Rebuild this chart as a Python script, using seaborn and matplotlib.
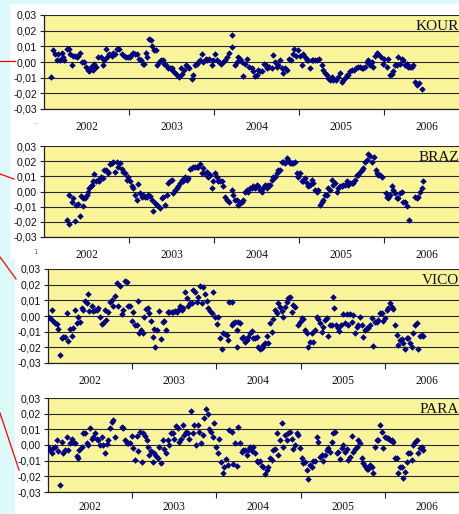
import matplotlib
matplotlib.use("Agg")
import matplotlib.pyplot as plt
from matplotlib.patches import Rectangle
from matplotlib.lines import Line2D
import seaborn as sns
import pandas as pd

# Time is given in years since 1 January 2002; values are residuals in metres.
stations = ["KOUR", "BRAZ", "VICO", "PARA"]
year_labels = ["2002", "2003", "2004", "2005", "2006"]
y_ticks = [-0.03, -0.02, -0.01, 0.00, 0.01, 0.02, 0.03]

t_kour = [0.082, 0.110, 0.129, 0.149, 0.169, 0.188, 0.208, 0.227, 0.239, 0.267,
          0.290, 0.306, 0.329, 0.345, 0.365, 0.384, 0.404, 0.424, 0.443, 0.471,
          0.490, 0.514, 0.533, 0.553, 0.573, 0.592, 0.612, 0.639, 0.667, 0.690,
          0.710, 0.729, 0.745, 0.769, 0.796, 0.816, 0.839, 0.863, 0.886, 0.914,
          0.941, 0.965, 0.992, 1.012, 1.031, 1.051, 1.071, 1.090, 1.122, 1.141,
          1.161, 1.180, 1.200, 1.216, 1.235, 1.255, 1.275, 1.294, 1.314, 1.333,
          1.357, 1.376, 1.396, 1.416, 1.435, 1.455, 1.482, 1.502, 1.522, 1.541,
          1.561, 1.588, 1.608, 1.627, 1.647, 1.671, 1.690, 1.710, 1.737, 1.757,
          1.776, 1.796, 1.816, 1.835, 1.855, 1.875, 1.902, 1.922, 1.945, 1.973,
          1.992, 2.012, 2.031, 2.059, 2.082, 2.102, 2.129, 2.149, 2.176,
          2.208, 2.208, 2.247, 2.267, 2.286, 2.306, 2.325, 2.345, 2.365, 2.392,
          2.416, 2.443, 2.463, 2.482, 2.502, 2.522, 2.541, 2.561, 2.592, 2.612,
          2.627, 2.651, 2.678, 2.698, 2.718, 2.737, 2.757, 2.776, 2.796, 2.816,
          2.835, 2.863, 2.886, 2.906, 2.925, 2.941, 2.965, 2.992, 3.012, 3.031,
          3.051, 3.071, 3.090, 3.110, 3.129, 3.149, 3.169, 3.188, 3.216, 3.239,
          3.267, 3.286, 3.306, 3.325, 3.345, 3.365, 3.384, 3.404, 3.435, 3.463,
          3.482, 3.502, 3.522, 3.541, 3.561, 3.580, 3.600, 3.620, 3.647, 3.671,
          3.698, 3.718, 3.737, 3.757, 3.776, 3.796, 3.816, 3.835, 3.855, 3.875,
          3.894, 3.914, 3.933, 3.961, 3.984, 4.004, 4.031, 4.051, 4.071, 4.090,
          4.110, 4.129, 4.149, 4.169, 4.188, 4.208, 4.227, 4.247, 4.267, 4.286,
          4.306, 4.325, 4.345, 4.365, 4.392, 4.416, 4.443]
v_kour = [-0.0095, 0.0075, 0.005, 0.001, 0.005, 0.001, 0.006, 0.003, 0.001, 0.008,
          0.008, 0.005, -0.002, 0.004, 0.004, 0.003, 0.004, 0.006, 0.000, 0.000,
          -0.003, -0.005, -0.006, -0.003, -0.005, -0.001, -0.003, 0.003, 0.003, -0.002,
          0.001, 0.008, 0.003, 0.005, 0.004, 0.006, 0.005, 0.008, 0.008, 0.005,
          0.004, 0.003, 0.003, 0.003, 0.005, 0.006, 0.005, 0.005, 0.002, 0.001,
          -0.001, -0.001, 0.006, 0.003, 0.0145, 0.014, 0.0105, 0.0075, 0.0075, -0.002,
          0.000, 0.001, 0.001, -0.001, -0.002, -0.004, -0.004, -0.004, -0.006, -0.007,
          -0.008, -0.0095, -0.004, -0.0075, -0.005, -0.002, -0.003, -0.004, -0.011, -0.008,
          -0.002, -0.001, 0.000, 0.001, 0.005, 0.000, 0.002, 0.001, 0.002, -0.002,
          0.001, 0.005, 0.001, 0.000, -0.001, 0.000, 0.001, 0.003, 0.006,
          0.017, 0.0095, -0.002, 0.000, 0.003, 0.002, 0.000, -0.009, -0.001, 0.002,
          -0.003, -0.004, -0.006, -0.009, -0.008, -0.005, -0.006, -0.006, -0.001, -0.002,
          -0.004, -0.003, -0.004, 0.0045, 0.000, -0.003, -0.002, 0.001, -0.004, -0.007,
          -0.004, -0.005, 0.002, 0.001, 0.005, 0.008, 0.004, 0.0075, 0.004, -0.002,
          0.005, 0.003, 0.001, 0.001, -0.004, 0.001, 0.001, 0.001, 0.001, 0.002,
          -0.002, -0.005, -0.007, -0.008, -0.0105, -0.0115, -0.0095, -0.0115, -0.0115, -0.0095,
          -0.007, -0.0125, -0.0115, -0.0105, -0.008, -0.008, -0.006, -0.005, -0.005, -0.004,
          -0.003, -0.003, -0.004, -0.004, -0.003, 0.000, 0.001, -0.002, 0.000, -0.003,
          0.004, 0.006, 0.005, 0.003, -0.001, 0.002, -0.003, 0.002, -0.008, -0.0075,
          -0.006, -0.002, -0.002, 0.003, -0.001, 0.002, 0.001, -0.002, -0.001, -0.003,
          -0.003, -0.003, -0.002, -0.0125, -0.0145, -0.0135, -0.017]

t_braz = [0.267, 0.294, 0.294, 0.325, 0.345, 0.365, 0.376, 0.396, 0.424, 0.435,
          0.455, 0.463, 0.482, 0.502, 0.514, 0.533, 0.549, 0.561, 0.573, 0.592,
          0.612, 0.631, 0.651, 0.671, 0.690, 0.706, 0.729, 0.749, 0.757, 0.776,
          0.796, 0.816, 0.835, 0.855, 0.875, 0.894, 0.914, 0.933, 0.953, 0.973,
          0.992, 1.012, 1.031, 1.051, 1.071, 1.090, 1.110, 1.129, 1.149, 1.169,
          1.188, 1.208, 1.227, 1.247, 1.267, 1.286, 1.306, 1.325, 1.345, 1.365,
          1.384, 1.404, 1.424, 1.443, 1.463, 1.482, 1.502, 1.522, 1.541, 1.561,
          1.580, 1.600, 1.620, 1.639, 1.659, 1.678, 1.698, 1.718, 1.737, 1.757,
          1.776, 1.796, 1.816, 1.835, 1.855, 1.875, 1.894, 1.914, 1.933, 1.953,
          1.973, 1.992, 2.012, 2.031, 2.051, 2.071, 2.090, 2.110, 2.129, 2.149,
          2.176,
          2.208, 2.227, 2.247, 2.267, 2.286, 2.306, 2.325, 2.345, 2.365, 2.384,
          2.404, 2.424, 2.443, 2.463, 2.482, 2.502, 2.522, 2.541, 2.561, 2.580,
          2.600, 2.620, 2.639, 2.659, 2.678, 2.698, 2.718, 2.737, 2.757, 2.776,
          2.796, 2.816, 2.835, 2.855, 2.875, 2.894, 2.914, 2.933, 2.953, 2.973,
          2.992, 3.012, 3.031, 3.051, 3.071, 3.090, 3.110, 3.129, 3.149, 3.169,
          3.188, 3.208, 3.227, 3.247, 3.267, 3.286, 3.306, 3.325, 3.345, 3.365,
          3.384, 3.404, 3.424, 3.443, 3.463, 3.482, 3.502, 3.522, 3.541, 3.561,
          3.580, 3.600, 3.620, 3.639, 3.659, 3.678, 3.698, 3.718, 3.737, 3.757,
          3.776, 3.796, 3.816, 3.835, 3.855,
          3.882, 3.902, 3.914, 3.933, 3.953, 3.973,
          4.024, 4.031, 4.051, 4.071, 4.090, 4.110, 4.129, 4.149, 4.169, 4.188,
          4.208, 4.227, 4.247,
          4.275, 4.294,
          4.365, 4.384, 4.404, 4.424, 4.443, 4.463]
v_braz = [-0.0186, -0.0214, -0.0026, -0.0066, -0.0044, -0.0197, -0.0088, -0.0081, -0.016, -0.0028,
          -0.0094, -0.0044, -0.0044, -0.0022, 0.000, 0.0022, 0.0033, 0.0044, 0.0066, 0.0114,
          0.0066, 0.0077, 0.007, 0.0098, 0.0088, 0.0142, 0.0142, 0.0131, 0.012, 0.018,
          0.0186, 0.0193, 0.0131, 0.0193, 0.0164, 0.0186, 0.0149, 0.0131, 0.012, 0.0077,
          0.0098, 0.0072, 0.0033, 0.0022, -0.0026, -0.0055, 0.0048, -0.0011, -0.0033, -0.0022,
          -0.0033, -0.0033, -0.0022, -0.0028, -0.0055, -0.0127, -0.0077, -0.0088, -0.0098, -0.0109,
          -0.0044, -0.0033, -0.0088, -0.0022, 0.0055, 0.0072, 0.0077, -0.0007, 0.0011, 0.0022,
          0.0033, 0.0055, 0.0077, 0.0066, 0.0098, 0.0077, 0.0088, 0.0147, 0.0153, 0.0164,
          0.0164, 0.016, 0.0164, 0.0182, 0.012, 0.0153, 0.012, 0.0131, 0.0098, 0.0109,
          0.0022, 0.0066, 0.012, 0.0098, 0.0066, 0.0066, 0.0066, 0.0033, -0.0033, -0.0055,
          -0.0066,
          0.0011, -0.0022, -0.0055, -0.0055, -0.0088, -0.0077, -0.0066, -0.0055, 0.000, 0.0011,
          0.000, 0.0022, 0.0022, 0.0033, 0.0022, 0.0044, 0.0033, 0.0011, 0.000, 0.0022,
          0.0044, 0.0022, 0.0044, 0.0044, 0.0077, 0.0098, 0.0098, 0.012, 0.0142, 0.0142,
          0.0197, 0.0197, 0.0186, 0.0219, 0.0208, 0.0186, 0.0186, 0.0186, 0.0197, 0.012,
          0.0098, 0.012, 0.0066, 0.0066, 0.0088, 0.0055, 0.0033, 0.0044, 0.0077, 0.0055,
          0.0011, 0.000, 0.0011, -0.0088, -0.0066, -0.0055, -0.0022, -0.0022, 0.0022, 0.0011,
          0.0077, 0.0044, 0.0055, 0.000, 0.0022, 0.0033, 0.0033, 0.0044, 0.0044, 0.0066,
          0.0044, 0.0055, 0.0055, 0.0055, 0.0077, 0.0109, 0.0109, 0.0131, 0.0142, 0.0153,
          0.0197, 0.0208, 0.0247, 0.0234, 0.0197,
          0.023, 0.0142, 0.0125, 0.0109, 0.0109, 0.0098,
          -0.0011, -0.0033, -0.0044, -0.0022, 0.0033, 0.0011, -0.0011, -0.0044, -0.0044, -0.0011,
          0.000, -0.0066, -0.0066,
          -0.0098, -0.0186,
          -0.0033, -0.0044, -0.0033, 0.000, 0.0022, 0.0066]

t_vico = [0.000, 0.004, 0.024, 0.044, 0.063, 0.083, 0.103, 0.123, 0.143, 0.162,
          0.182, 0.202, 0.222, 0.241, 0.261, 0.281, 0.293, 0.321, 0.340, 0.360,
          0.380, 0.400, 0.420, 0.439, 0.459, 0.479, 0.491, 0.519, 0.538, 0.558,
          0.578, 0.598, 0.618, 0.637, 0.657, 0.677, 0.689, 0.717, 0.736, 0.756,
          0.776, 0.796, 0.816, 0.835, 0.855, 0.875, 0.895, 0.914, 0.934, 0.954,
          0.974, 0.994, 1.013, 1.033, 1.053, 1.073, 1.085, 1.101, 1.124, 1.144,
          1.164, 1.184, 1.203, 1.223, 1.243, 1.263, 1.275, 1.291, 1.322, 1.342,
          1.362, 1.382, 1.401, 1.421, 1.441, 1.469, 1.489, 1.508, 1.528, 1.548,
          1.568, 1.587, 1.607, 1.627, 1.647, 1.667, 1.686, 1.706, 1.726, 1.746,
          1.766, 1.785, 1.805, 1.825, 1.845, 1.865, 1.884, 1.904, 1.924, 1.944,
          1.964, 1.983, 2.003, 2.023, 2.043, 2.063, 2.082, 2.102, 2.122, 2.142,
          2.154,
          2.181, 2.181, 2.201, 2.221, 2.241, 2.260, 2.280, 2.241, 2.300, 2.320,
          2.340, 2.359, 2.379, 2.399, 2.419, 2.439, 2.458, 2.478, 2.498, 2.518,
          2.538, 2.557, 2.577, 2.597, 2.617, 2.637, 2.656, 2.676, 2.696, 2.716,
          2.736, 2.755, 2.775, 2.795, 2.815, 2.835, 2.854, 2.874, 2.894, 2.914,
          2.934, 2.973, 2.993, 3.013, 3.033, 3.052, 3.072, 3.092, 3.112, 3.132,
          3.151, 3.171, 3.191, 3.211, 3.230, 3.250, 3.270, 3.290, 3.310, 3.329,
          3.349, 3.369, 3.389, 3.401, 3.421, 3.440, 3.460, 3.480, 3.508, 3.528,
          3.547, 3.567, 3.587, 3.607, 3.627, 3.646, 3.666, 3.686, 3.706, 3.726,
          3.745, 3.765, 3.785, 3.805, 3.824, 3.844, 3.864, 3.884, 3.904, 3.923,
          3.943, 3.963, 3.983, 4.002, 4.022, 4.042, 4.062, 4.081, 4.101, 4.121,
          4.141, 4.161, 4.180, 4.200, 4.220, 4.240, 4.260, 4.279, 4.299, 4.319,
          4.339, 4.358, 4.378, 4.398, 4.418, 4.437, 4.457]
v_vico = [-0.0009, -0.0015, -0.0015, 0.0038, -0.0032, -0.0043, -0.0053, -0.0083, -0.0249, -0.0143,
          -0.0132, -0.0132, 0.0017, -0.016, -0.0085, -0.0128, -0.0079, 0.0038, -0.0043, -0.0004,
          -0.0036, 0.0049, 0.0038, 0.0098, 0.0081, 0.0138, 0.0034, 0.0066, 0.0034, 0.0038,
          0.0038, 0.0049, -0.0004, -0.0053, -0.0043, 0.0038, -0.0026, 0.0028, 0.0091, 0.0102,
          0.0066, 0.0128, 0.0209, 0.0066, 0.0191, 0.0013, 0.0038, 0.0226, 0.0219, 0.0066,
          0.0066, -0.0032, 0.0028, -0.0057, -0.0057, 0.0098, -0.0106, -0.0089, -0.0106, -0.0004,
          0.0045, 0.0049, 0.0017, -0.0032, -0.0132, -0.0083, -0.0196, -0.0089, 0.0034, -0.0149,
          -0.0036, -0.0032, -0.0089, 0.0028, 0.0028, 0.0028, 0.0028, 0.0034, 0.0028, 0.0038,
          0.0066, 0.0038, 0.0049, 0.0155, 0.0113, 0.0066, 0.0081, 0.0081, 0.0166, 0.0155,
          0.0091, 0.0119, 0.0191, 0.0081, 0.0187, 0.0138, 0.0098, 0.0049, 0.0034, 0.0017,
          0.0155, -0.0004, -0.0053, -0.0004, -0.0143, -0.0213, -0.0106, -0.0115, -0.0121, -0.0153,
          0.0091,
          0.0091, -0.0057, -0.0047, -0.0036, -0.0089, -0.0036, -0.0047, -0.020, -0.0143, -0.0132,
          -0.0164, -0.0153, -0.0136, -0.0111, -0.0094, -0.0143, -0.0143, -0.0132, -0.020, -0.0213,
          -0.0206, -0.0185, -0.017, -0.0128, -0.0174, -0.0047, -0.010, -0.0021, 0.0038, 0.0017,
          0.0081, 0.006, 0.0034, -0.0009, 0.006, 0.0091, 0.0113, 0.0123, 0.0028, 0.007,
          0.006, -0.0057, -0.0036, -0.0015, -0.0021, -0.0089, -0.0111, -0.0196, -0.0164, -0.0111,
          -0.0164, -0.0089, -0.0004, -0.0021, -0.0043, -0.010, -0.0068, -0.0026, -0.0015, -0.0128,
          -0.0057, -0.0057, 0.0123, 0.0053, -0.0057, -0.0079, -0.0094, -0.0057, 0.0013, -0.0047,
          0.0013, -0.0057, 0.0013, -0.0036, 0.0006, -0.0111, -0.0068, -0.0057, -0.0004, -0.0057,
          -0.0132, -0.0089, -0.0079, -0.0079, -0.0057, -0.0015, -0.0191, -0.0036, -0.0036, -0.0026,
          0.0017, 0.0017, -0.003, -0.0015, 0.0038, 0.0049, 0.0085, 0.006, 0.0043, -0.0057,
          -0.0121, -0.0185, -0.0153, -0.0149, -0.0174, -0.0213, -0.0143, -0.0143, -0.0174, -0.020,
          -0.0111, -0.0057, -0.0043, -0.0213, -0.0128, -0.0121, -0.0128]

t_para = [0.000, 0.004, 0.024, 0.044, 0.063, 0.083, 0.103, 0.123, 0.143, 0.162,
          0.182, 0.202, 0.222, 0.241, 0.261, 0.281, 0.301, 0.321, 0.340, 0.360,
          0.372, 0.400, 0.420, 0.439, 0.459, 0.479, 0.499, 0.519, 0.538, 0.558,
          0.578, 0.598, 0.618, 0.637, 0.657, 0.677, 0.697, 0.717, 0.736, 0.756,
          0.776, 0.796, 0.875, 0.895, 0.914, 0.934, 0.954, 0.974, 0.994, 1.013,
          1.033, 1.053, 1.073, 1.093, 1.112, 1.124, 1.152, 1.172, 1.184, 1.203,
          1.223, 1.243, 1.263, 1.283, 1.302, 1.322, 1.342, 1.362, 1.382, 1.401,
          1.421, 1.441, 1.461, 1.481, 1.500, 1.520, 1.540, 1.560, 1.580, 1.599,
          1.619, 1.639, 1.659, 1.679, 1.698, 1.718, 1.738, 1.758, 1.778, 1.797,
          1.817, 1.837, 1.857, 1.877, 1.896, 1.916, 1.936, 1.956, 1.976, 1.995,
          2.015, 2.035, 2.055, 2.074, 2.094, 2.114, 2.134, 2.154,
          2.181, 2.201, 2.221, 2.241, 2.260, 2.280, 2.300, 2.320, 2.340, 2.359,
          2.379, 2.399, 2.419, 2.439, 2.458, 2.478, 2.498, 2.518, 2.538, 2.557,
          2.577, 2.597, 2.617, 2.637, 2.656, 2.676, 2.696, 2.716, 2.736, 2.755,
          2.775, 2.795, 2.815, 2.835, 2.854, 2.874, 2.894, 2.914, 2.934, 2.953,
          2.973, 2.993, 3.013, 3.033, 3.052, 3.072, 3.092, 3.112, 3.132, 3.151,
          3.171, 3.191, 3.211, 3.230, 3.250, 3.270, 3.290, 3.310, 3.329, 3.349,
          3.369, 3.389, 3.409, 3.428, 3.448, 3.468, 3.488, 3.508, 3.528, 3.547,
          3.567, 3.587, 3.607, 3.627, 3.646, 3.666, 3.686, 3.706, 3.726, 3.745,
          3.765, 3.785, 3.805, 3.824, 3.844, 3.864, 3.884, 3.904, 3.923, 3.943,
          3.963, 3.983, 4.002, 4.022, 4.042, 4.062, 4.081, 4.101, 4.121, 4.141,
          4.161, 4.180, 4.200, 4.220, 4.240, 4.260, 4.279, 4.299, 4.319, 4.339,
          4.358, 4.378, 4.398, 4.418, 4.437, 4.457]
v_para = [-0.0015, -0.0028, -0.0032, -0.0054, -0.0021, -0.0015, 0.0032, -0.0036, -0.0257, 0.0021,
          -0.0049, -0.0032, 0.0054, -0.0032, 0.0015, 0.0036, 0.0021, 0.0015, -0.0071, -0.0086,
          -0.0032, -0.0015, 0.0079, 0.0075, 0.0011, 0.000, 0.0107, 0.0036, 0.0054, 0.0079,
          0.0036, 0.0032, 0.000, 0.0054, 0.000, -0.0049, 0.0006, 0.0032, 0.0107, 0.015,
          0.0161, 0.0054, 0.0118, 0.0107, 0.0032, 0.0011, 0.0015, 0.0015, 0.0058, -0.0021,
          -0.0096, 0.0058, -0.0036, 0.0086, -0.0107, 0.0075, 0.0058, 0.0032, -0.0015, -0.0064,
          -0.0036, -0.0107, -0.0054, -0.0071, -0.0086, -0.0015, -0.0118, 0.0032, -0.0028, -0.0049,
          0.0032, 0.000, 0.0079, 0.0079, 0.0036, 0.0122, 0.0107, 0.0021, 0.0036, 0.0128,
          0.0064, 0.0086, 0.0075, 0.0036, 0.0214, 0.0075, 0.0128, 0.000, 0.0128, 0.0086,
          0.0015, 0.0064, 0.0171, 0.0229, 0.0199, 0.0101, 0.0086, 0.0054, 0.0139, -0.0015,
          -0.0049, 0.0036, -0.0107, -0.0178, -0.0139, -0.0092, -0.0128, 0.0096,
          0.0086, -0.0122, 0.0011, -0.0135, 0.0118, 0.0015, -0.0043, -0.0032, -0.0032, -0.0064,
          -0.0032, -0.0015, -0.0036, -0.0011, -0.0054, -0.0101, -0.0107, -0.0101, -0.0135, -0.0143,
          -0.0186, -0.0161, -0.0139, -0.0086, -0.0096, -0.0032, -0.0028, 0.0075, -0.0064, 0.0032,
          0.0139, -0.0011, 0.0064, 0.0032, 0.0075, 0.0086, 0.0036, -0.0028, 0.000, 0.0075,
          0.0064, -0.0021, -0.0086, -0.0118, -0.0107, -0.0161, -0.0214, -0.0128, -0.0139, -0.0101,
          -0.0101, 0.0054, 0.0021, -0.0075, -0.0064, -0.0101, -0.0064, -0.0032, -0.0021, -0.0043,
          0.0021, 0.0075, 0.0086, -0.0054, -0.0043, -0.0092, -0.0021, 0.000, -0.0043, -0.0028,
          -0.0096, -0.0075, 0.0058, -0.0043, -0.0028, -0.0011, 0.0032, 0.0011, -0.0086, -0.0118,
          -0.0135, -0.015, -0.015, -0.0128, -0.0139, -0.0178, -0.0011, 0.0032, 0.0032, 0.0128,
          0.0086, -0.0021, 0.0054, 0.0043, 0.0043, 0.0032, 0.0032, 0.0021, -0.0086, -0.0086,
          -0.0178, -0.0139, -0.0143, -0.0208, -0.0171, -0.0107, -0.0054, -0.0054, -0.0096, 0.000,
          0.0021, 0.0032, -0.0054, -0.0021, -0.0011, -0.0032]

series = {"KOUR": (t_kour, v_kour), "BRAZ": (t_braz, v_braz),
          "VICO": (t_vico, v_vico), "PARA": (t_para, v_para)}

# ---- page layout (pixel boxes on a 460 x 514 canvas) ----
W, H = 460, 514
PAGE = "#dcfafa"
CARD = "#ffffff"
PLOT = "#faf59b"
MARK = "#000080"

fig = plt.figure(figsize=(W / 100, H / 100), dpi=100)
fig.patch.set_facecolor(PAGE)


def fig_rect(x0, y0, x1, y1, color):
    fig.add_artist(Rectangle((x0 / W, 1 - y1 / H), (x1 - x0) / W, (y1 - y0) / H,
                             transform=fig.transFigure, facecolor=color,
                             edgecolor="none", zorder=0))


def fig_line(x0, y0, x1, y1):
    fig.add_artist(Line2D([x0 / W, x1 / W], [1 - y0 / H, 1 - y1 / H],
                          transform=fig.transFigure, color="#ff0000", lw=0.9, zorder=5))


fig_rect(10, 4, 470, 259, CARD)
fig_rect(15, 259, 470, 520, CARD)

boxes = {"KOUR": (44, 15, 469, 109), "BRAZ": (44, 146, 469, 237),
         "VICO": (48, 269, 469, 363), "PARA": (48, 398, 469, 492)}
year_pad = {"KOUR": 8.5, "BRAZ": 8.5, "VICO": 8.5, "PARA": 6.5}


def comma(v):
    s = f"{v:.2f}".replace(".", ",")
    return "0,00" if s in ("-0,00", "0,00") else s


for name in stations:
    x0, y0, x1, y1 = boxes[name]
    ax = fig.add_axes([x0 / W, 1 - y1 / H, (x1 - x0) / W, (y1 - y0) / H])
    ax.set_facecolor(PLOT)
    t, v = series[name]
    df = pd.DataFrame({"t": t, "v": v})
    sns.scatterplot(data=df, x="t", y="v", ax=ax, marker="D", s=11,
                    color=MARK, linewidth=0, zorder=3)
    ax.set_xlim(0, 5)
    ax.set_ylim(-0.03, 0.03)
    ax.set_xlabel("")
    ax.set_ylabel("")

    ax.set_yticks(y_ticks)
    ax.set_yticklabels([comma(y) for y in y_ticks], fontfamily="Liberation Sans",
                       fontsize=7.5, color="#111111")
    ax.tick_params(axis="y", length=3, width=0.8, pad=2, color="#222222")
    ax.yaxis.grid(True, color="#2a2a2a", lw=0.8)
    ax.set_axisbelow(True)

    ax.set_xticks([1, 2, 3, 4])
    ax.set_xticklabels([])
    ax.tick_params(axis="x", which="major", length=4, width=0.8, color="#222222")
    ax.set_xticks([0.5, 1.5, 2.5, 3.5, 4.5], minor=True)
    ax.set_xticklabels(year_labels, minor=True, fontfamily="Liberation Serif",
                       fontsize=8.3, color="#111111")
    ax.tick_params(axis="x", which="minor", length=0, pad=year_pad[name])

    for side in ("top", "right"):
        ax.spines[side].set_visible(False)
    for side in ("left", "bottom"):
        ax.spines[side].set_color("#222222")
        ax.spines[side].set_linewidth(0.9)

    fig.text(459 / W, 1 - (y0 + 15) / H, name, ha="right", va="baseline",
             fontfamily="Liberation Serif", fontsize=11, color="#111111")

# connector strokes on the left margin
fig_line(0, 61, 15, 61)
fig_line(0, 174, 14, 179)
fig_line(0, 257, 16, 279)
fig_line(0, 413, 19, 470)

fig.text(35 / W, 1 - 122 / H, ".", fontsize=5, color="#666666", ha="center", va="center")
fig.text(35 / W, 1 - 252 / H, "1", fontsize=5, color="#666666", ha="center", va="center")

fig.savefig("out.png", dpi=100, facecolor=PAGE)
